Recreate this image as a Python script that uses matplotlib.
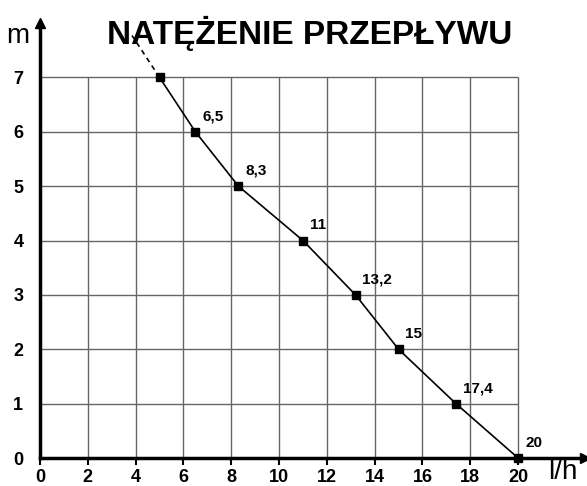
import matplotlib.pyplot as plt
import numpy as np

plt.rcParams['font.family'] = ['Liberation Sans', 'DejaVu Sans']

# dane z wykresu: przeplyw [l/h] i wysokosc podnoszenia [m]
przeplyw = [5, 6.5, 8.3, 11, 13.2, 15, 17.4, 20]
wysokosc = [7, 6, 5, 4, 3, 2, 1, 0]
etykiety = ['', '6,5', '8,3', '11', '13,2', '15', '17,4', '20']
# przedluzenie krzywej (linia przerywana)
przedl_x = [5, 3.85]
przedl_y = [7, 7.77]

x_ticks = [0, 2, 4, 6, 8, 10, 12, 14, 16, 18, 20]
y_ticks = [0, 1, 2, 3, 4, 5, 6, 7]

fig = plt.figure(figsize=(5.87, 4.86), dpi=100)
# osie ustawione tak, zeby 0 trafilo w ten sam piksel co w oryginale
ax = fig.add_axes([40 / 587, 28 / 486, 545 / 587, 435 / 486])
ax.set_xlim(0, 22.8)
ax.set_ylim(0, 8.0)

# siatka tylko w obszarze 0-20 / 0-7
ax.vlines(x_ticks[1:], 0, 7, color='#666666', lw=1, zorder=1)
ax.hlines(y_ticks[1:], 0, 20, color='#666666', lw=1, zorder=1)

ax.plot(przeplyw, wysokosc, color='black', lw=1.2, marker='s', ms=6,
        zorder=3, clip_on=False)
ax.plot(przedl_x, przedl_y, color='black', lw=1.2, ls=(0, (3, 2.5)), zorder=3)

for x, y, t in zip(przeplyw, wysokosc, etykiety):
    ax.annotate(t, (x, y), xytext=(5, 6), textcoords='offset points',
                fontsize=11, fontweight='bold', ha='left', va='bottom')

# osie ze strzalkami
for s in ['top', 'right']:
    ax.spines[s].set_visible(False)
for s in ['left', 'bottom']:
    ax.spines[s].set_linewidth(2.5)
    ax.spines[s].set_zorder(4)
ax.plot(1, 0, '>k', ms=7, transform=ax.get_yaxis_transform(), clip_on=False)
ax.plot(0, 1, '^k', ms=7, transform=ax.get_xaxis_transform(), clip_on=False)

ax.set_xticks(x_ticks)
ax.set_yticks(y_ticks)
ax.tick_params(axis='x', length=5, width=1.5, direction='out', pad=3,
               labelsize=13)
ax.tick_params(axis='y', length=0, pad=12, labelsize=13)
for lab in ax.get_xticklabels() + ax.get_yticklabels():
    lab.set_fontweight('bold')

fig.text(18 / 587, 1 - 36 / 486, 'm', fontsize=20, ha='center', va='center')
fig.text(563 / 587, 1 - 472 / 486, 'l/h', fontsize=20, ha='center', va='center')
fig.text(310 / 587, 1 - 33 / 486, 'NATĘŻENIE PRZEPŁYWU', fontsize=24,
         fontweight='bold', ha='center', va='center')

fig.savefig('out.png', dpi=100)
